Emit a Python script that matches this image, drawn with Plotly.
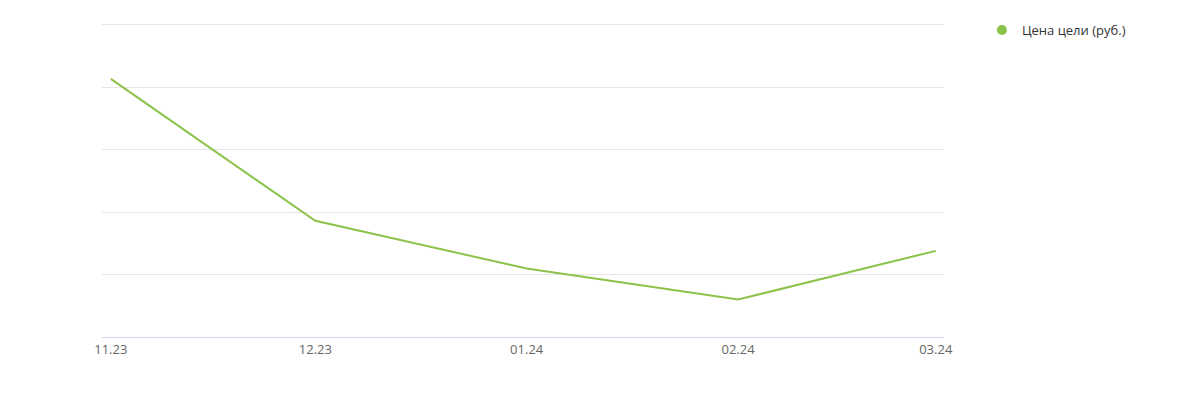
import plotly.graph_objects as go

dates = ["2023-11-01", "2023-12-01", "2024-01-01", "2024-02-01", "2024-03-01"]
tick_labels = ["11.23", "12.23", "01.24", "02.24", "03.24"]
values = [4.134, 1.861, 1.097, 0.600, 1.380]
series_name = "Цена цели (руб.)"
color = "#8bc34a"

fig = go.Figure()
fig.add_trace(go.Scatter(
    x=dates, y=values, mode="lines", name=series_name,
    line=dict(color=color, width=2),
    showlegend=False, legendgroup="g",
))
fig.add_trace(go.Scatter(
    x=[None], y=[None], mode="markers", name=series_name,
    marker=dict(color=color, size=10, symbol="circle"),
    showlegend=True, legendgroup="g",
))

fig.update_layout(
    width=1200, height=399,
    margin=dict(l=102, r=256, t=23, b=62),
    paper_bgcolor="white", plot_bgcolor="white",
    font=dict(family="Open Sans", size=13, color="#666666"),
    xaxis=dict(
        type="date",
        range=["2023-10-30 17:00", "2024-03-02 05:00"],
        tickvals=dates, ticktext=tick_labels,
        showgrid=False, showline=True, linecolor="#ccd6eb", linewidth=1,
        ticks="", tickfont=dict(size=13, color="#666666"),
        zeroline=False, fixedrange=True,
    ),
    yaxis=dict(
        range=[0, 5.03], tickvals=[0, 1, 2, 3, 4, 5], showticklabels=False,
        gridcolor="#e6e6e6", gridwidth=1, zeroline=False,
        showline=False, fixedrange=True,
    ),
    legend=dict(
        xref="container", yref="container", x=0.8183, y=0.9625,
        xanchor="left", yanchor="top",
        font=dict(family="Open Sans", size=13, color="#333333"),
        itemwidth=30,
    ),
)

fig.write_html("out.html")
